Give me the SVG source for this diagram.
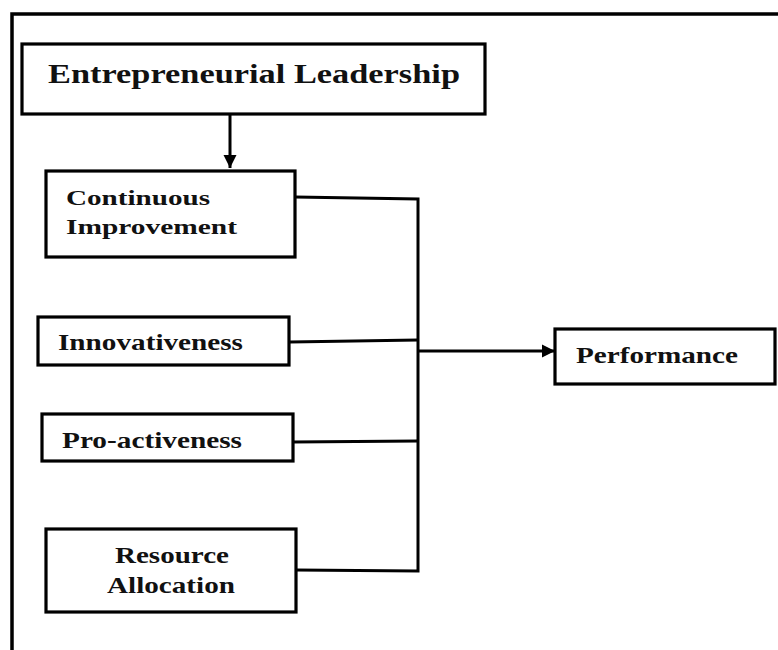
<svg xmlns="http://www.w3.org/2000/svg" width="778" height="650" viewBox="0 0 778 650">
<style>
.box{fill:#fff;stroke:#000;stroke-width:3.2}
.t{font-family:"Liberation Serif","Times New Roman",serif;font-weight:bold;fill:#111}
.ln{fill:none;stroke:#000;stroke-width:3}
</style>
<defs>
<marker id="ah" viewBox="0 0 10 10" refX="10" refY="5" markerWidth="4.5" markerHeight="4.5" orient="auto" markerUnits="strokeWidth">
<path d="M0,0 L10,5 L0,10 z" fill="#000"/>
</marker>
</defs>
<rect width="778" height="650" fill="#fff"/>
<path d="M12,650 V14 H778" fill="none" stroke="#000" stroke-width="3.5"/>
<g id="connectors">
<path class="ln" d="M230,114 V168" marker-end="url(#ah)"/>
<path class="ln" d="M295,197 L418,199 V571 L296,570"/>
<path class="ln" d="M290,342 L418,340"/>
<path class="ln" d="M293,442 L418,441"/>
<path class="ln" d="M418,351 H555" marker-end="url(#ah)"/>
</g>
<g id="entrepreneurial-leadership">
<rect class="box" x="22" y="44" width="463" height="70"/>
<text class="t" x="48" y="83" font-size="28" textLength="412" lengthAdjust="spacingAndGlyphs">Entrepreneurial Leadership</text>
</g>
<g id="continuous-improvement">
<rect class="box" x="46" y="171" width="249" height="86"/>
<text class="t" x="66" y="205" font-size="22" textLength="144" lengthAdjust="spacingAndGlyphs">Continuous</text>
<text class="t" x="66" y="234" font-size="22" textLength="171" lengthAdjust="spacingAndGlyphs">Improvement</text>
</g>
<g id="innovativeness">
<rect class="box" x="38" y="317" width="251" height="48"/>
<text class="t" x="58" y="350" font-size="23" textLength="185" lengthAdjust="spacingAndGlyphs">Innovativeness</text>
</g>
<g id="pro-activeness">
<rect class="box" x="42" y="414" width="251" height="47"/>
<text class="t" x="62" y="448" font-size="23" textLength="180" lengthAdjust="spacingAndGlyphs">Pro-activeness</text>
</g>
<g id="resource-allocation">
<rect class="box" x="46" y="529" width="250" height="83"/>
<text class="t" x="172" y="563" font-size="23" text-anchor="middle" textLength="114" lengthAdjust="spacingAndGlyphs">Resource</text>
<text class="t" x="171" y="593" font-size="23" text-anchor="middle" textLength="128" lengthAdjust="spacingAndGlyphs">Allocation</text>
</g>
<g id="performance">
<rect class="box" x="555" y="329" width="220" height="55"/>
<text class="t" x="576" y="363" font-size="23" textLength="162" lengthAdjust="spacingAndGlyphs">Performance</text>
</g>
</svg>
